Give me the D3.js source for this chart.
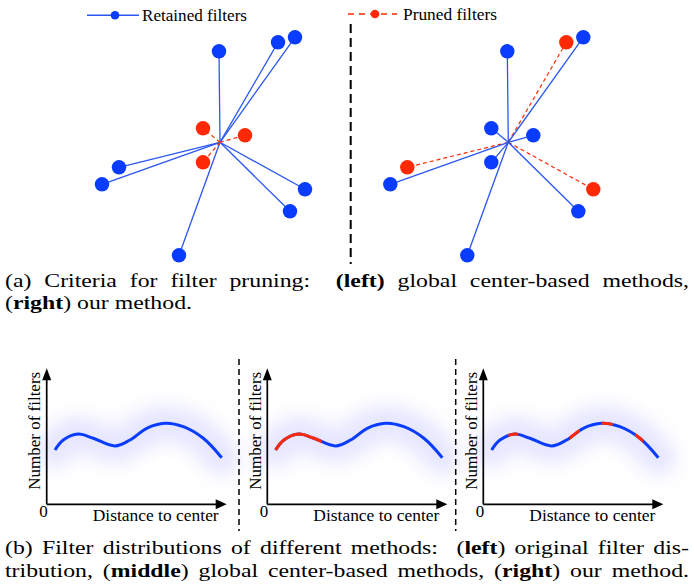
<!DOCTYPE html>
<html>
<head>
<meta charset="utf-8">
<script src="https://cdn.jsdelivr.net/npm/d3@7"></script>
<style>
	html, body { margin: 0; padding: 0; background: #fff; }
	svg { display: block; font-family: 'Liberation Serif', 'Times New Roman', serif; }
</style>
</head>
<body>
<div class="svg-container"></div>
<script>
const w = 694;
const h = 586;

const blue = '#0a3cff';
const blueLine = '#2b57f2';
const red = '#ff2a05';

// filter positions relative to the global center (y up)
const filterX = [-1, 58, 75, -101, -118, 85, 70, -41, -17, 25, -17];
const filterY = [91, 100, 105, -25, -42, -47, -69, -113, 14, 7, -20];
const prunedLeft = [8, 9, 10];
const prunedRight = [1, 3, 5];

// distribution curve
const distance = [8.3, 16.6, 31.6, 46.6, 68.3, 83.3, 100, 118.3, 136.6, 156.6, 175];
const count = [54.3, 64.3, 70.3, 66, 58.3, 64.3, 76, 81, 77.6, 66, 46.6];
const originalPruned = [];
const middlePruned = [[0, 54.4]];
const ourPruned = [[25, 35], [86.7, 96.7], [118.4, 129.4], [151.7, 160]];

const legendLabels = ['Retained filters', 'Pruned filters'];
const xLabel = 'Distance to center';
const yLabel = 'Number of filters';

const svg = d3
	.select('.svg-container')
	.append('svg')
	.attr('width', w)
	.attr('height', h)
	.style('background-color', '#fff');

const defs = svg.append('defs');
defs
	.append('filter')
	.attr('id', 'glow')
	.attr('x', '-50%')
	.attr('y', '-100%')
	.attr('width', '200%')
	.attr('height', '300%')
	.append('feGaussianBlur')
	.attr('stdDeviation', 9);

// ---------- legend ----------
const legend = svg.append('g').attr('id', 'legend');
legend
	.append('line')
	.attr('x1', 87).attr('x2', 139).attr('y1', 15.3).attr('y2', 15.3)
	.attr('stroke', blueLine).attr('stroke-width', 1.5);
legend.append('circle').attr('cx', 115).attr('cy', 15.3).attr('r', 4.3).attr('fill', blue);
legend
	.append('text')
	.attr('x', 142).attr('y', 20.5)
	.style('font-size', '17px')
	.attr('textLength', 105).attr('lengthAdjust', 'spacingAndGlyphs')
	.text(legendLabels[0]);

legend
	.append('line')
	.attr('x1', 348).attr('x2', 397).attr('y1', 14).attr('y2', 14)
	.attr('stroke', red).attr('stroke-width', 1.5).attr('stroke-dasharray', '6,5');
legend.append('circle').attr('cx', 375).attr('cy', 14).attr('r', 4.3).attr('fill', red);
legend
	.append('text')
	.attr('x', 403).attr('y', 19.5)
	.style('font-size', '17px')
	.attr('textLength', 94).attr('lengthAdjust', 'spacingAndGlyphs')
	.text(legendLabels[1]);

// ---------- star diagrams ----------
function drawStar(cx, cy, pruned) {
	const xs = d3.scaleLinear().domain([-150, 150]).range([cx - 150, cx + 150]);
	const ys = d3.scaleLinear().domain([-150, 150]).range([cy + 150, cy - 150]);
	const filters = filterX.map((x, i) => ({x, y: filterY[i], pruned: pruned.includes(i)}));
	const g = svg.append('g');

	g.selectAll('line')
		.data(filters)
		.enter()
		.append('line')
		.attr('x1', xs(0))
		.attr('y1', ys(0))
		.attr('x2', d => xs(d.x))
		.attr('y2', d => ys(d.y))
		.attr('stroke', d => (d.pruned ? red : blueLine))
		.attr('stroke-width', d => (d.pruned ? 1.2 : 1.3))
		.attr('stroke-dasharray', d => (d.pruned ? '4,3' : null));

	g.selectAll('circle')
		.data(filters)
		.enter()
		.append('circle')
		.attr('cx', d => xs(d.x))
		.attr('cy', d => ys(d.y))
		.attr('r', 7.2)
		.attr('fill', d => (d.pruned ? red : blue));
}

drawStar(220, 142.3, prunedLeft);
drawStar(508.3, 142.3, prunedRight);

svg
	.append('line')
	.attr('x1', 350.7).attr('x2', 350.7).attr('y1', 24).attr('y2', 264)
	.attr('stroke', '#000').attr('stroke-width', 2).attr('stroke-dasharray', '9,5');

// ---------- distribution panels ----------
const curvePoints = distance.map((d, i) => [d, count[i]]);

function drawPanel(ox, pruned, id) {
	const x = d3.scaleLinear().domain([0, 180]).range([ox, ox + 180]);
	const y = d3.scaleLinear().domain([0, 136]).range([504.3, 368.3]);
	const line = d3
		.line()
		.x(d => x(d[0]))
		.y(d => y(d[1]))
		.curve(d3.curveCatmullRom.alpha(0.5));
	const g = svg.append('g');

	g.append('path')
		.attr('d', line(curvePoints))
		.attr('fill', 'none')
		.attr('stroke', '#bcbcff')
		.attr('stroke-opacity', 0.38)
		.attr('stroke-width', 36)
		.attr('stroke-linecap', 'round')
		.attr('filter', 'url(#glow)');

	g.append('path')
		.attr('d', line(curvePoints))
		.attr('fill', 'none')
		.attr('stroke', blue)
		.attr('stroke-width', 3);

	pruned.forEach((range, i) => {
		const clipId = `clip-${id}-${i}`;
		defs
			.append('clipPath')
			.attr('id', clipId)
			.append('rect')
			.attr('x', x(range[0]))
			.attr('width', x(range[1]) - x(range[0]))
			.attr('y', y(136))
			.attr('height', y(0) - y(136));
		g.append('path')
			.attr('d', line(curvePoints))
			.attr('fill', 'none')
			.attr('stroke', red)
			.attr('stroke-width', 3)
			.attr('clip-path', `url(#${clipId})`);
	});

	// axes
	g.append('line')
		.attr('x1', x(0)).attr('x2', x(180) - 9).attr('y1', y(0)).attr('y2', y(0))
		.attr('stroke', '#000').attr('stroke-width', 1.7);
	g.append('line')
		.attr('x1', x(0)).attr('x2', x(0)).attr('y1', y(0)).attr('y2', y(136) + 10)
		.attr('stroke', '#000').attr('stroke-width', 1.7);
	g.append('path')
		.attr('d', `M${x(180)},${y(0)} L${x(180) - 11},${y(0) - 5} L${x(180) - 11},${y(0) + 5} Z`)
		.attr('fill', '#000');
	g.append('path')
		.attr('d', `M${x(0)},${y(136)} L${x(0) - 4.5},${y(136) + 12} L${x(0) + 4.5},${y(136) + 12} Z`)
		.attr('fill', '#000');

	g.append('text')
		.attr('x', x(0) - 7.5).attr('y', 517)
		.style('font-size', '17px')
		.text('0');
	g.append('text')
		.attr('x', x(46)).attr('y', 521)
		.style('font-size', '17px')
		.attr('textLength', 126).attr('lengthAdjust', 'spacingAndGlyphs')
		.text(xLabel);
	g.append('text')
		.attr('transform', `translate(${x(0) - 6.5}, ${y(0) - 14.5}) rotate(-90)`)
		.style('font-size', '17px')
		.attr('textLength', 118).attr('lengthAdjust', 'spacingAndGlyphs')
		.text(yLabel);
}

drawPanel(46.7, originalPruned, 'a');
drawPanel(267.3, middlePruned, 'b');
drawPanel(483.3, ourPruned, 'c');

[239, 455.7].forEach(xPos => {
	svg
		.append('line')
		.attr('x1', xPos).attr('x2', xPos).attr('y1', 359).attr('y2', 531)
		.attr('stroke', '#000').attr('stroke-width', 1.5).attr('stroke-dasharray', '6,4');
});

// ---------- captions ----------
// the printed caption is a bit wider than tall, so the text is stretched horizontally
const capScale = 1.22;
const captions = [
	{y: 287, justify: true, parts: [['(a) Criteria for filter pruning:  ', 0], ['(left)', 1], [' global center-based methods,', 0]]},
	{y: 309, justify: false, parts: [['(', 0], ['right', 1], [') our method.', 0]]},
	{y: 554, justify: true, parts: [['(b) Filter distributions of different methods:  (', 0], ['left', 1], [') original filter dis-', 0]]},
	{y: 577, justify: true, parts: [['tribution, (', 0], ['middle', 1], [') global center-based methods, (', 0], ['right', 1], [') our method.', 0]]},
];

captions.forEach(c => {
	const t = svg
		.append('text')
		.attr('transform', `translate(5, ${c.y}) scale(${capScale}, 1)`)
		.style('font-size', '19.5px')
		.style('white-space', 'pre');
	c.parts.forEach(p => {
		t.append('tspan')
			.style('font-weight', p[1] ? 'bold' : 'normal')
			.text(p[0]);
	});
	if (c.justify) {
		const target = 684 / capScale;
		const natural = t.node().getComputedTextLength();
		const spaces = c.parts.map(p => p[0]).join('').split(' ').length - 1;
		t.style('word-spacing', `${(target - natural) / spaces}px`);
	}
});
</script>
</body>
</html>
